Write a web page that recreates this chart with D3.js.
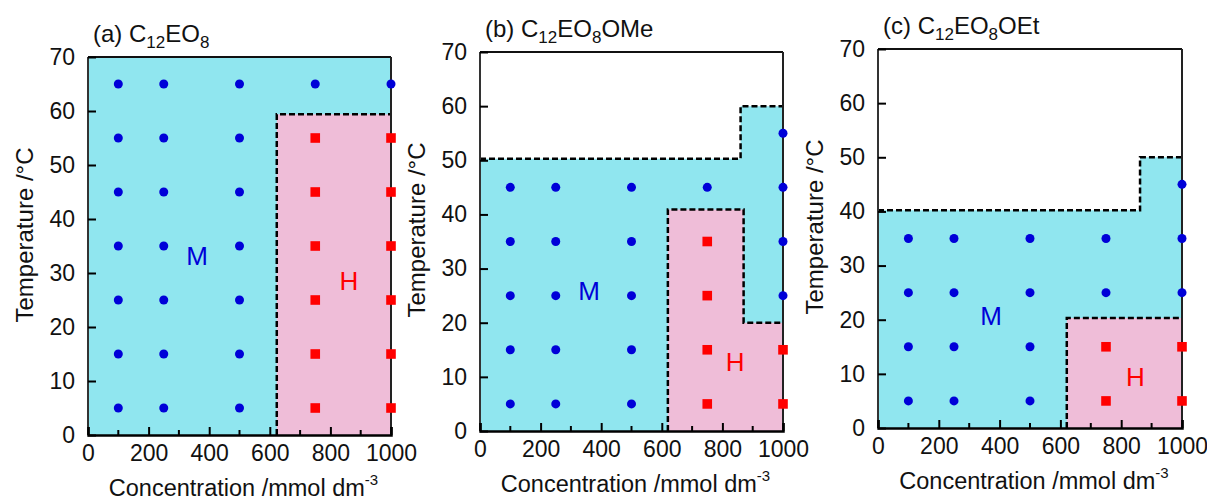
<!DOCTYPE html>
<html>
<head>
<meta charset="utf-8">
<script src="https://cdn.jsdelivr.net/npm/d3@7"></script>
<style>
  body { margin: 0; background: #fff; }
  svg { font-family: "Liberation Sans", Arial, sans-serif; }
</style>
</head>
<body>
<div id="chart"></div>
<script>
// phase boundaries [concentration, temperature]
const micelleA = [[0,0],[0,70],[1000,70],[1000,0]];
const hexA = [[623,0],[623,59.4],[1000,59.4],[1000,0]];
const dashA = [[623,0],[623,59.4],[1000,59.4]];

const micelleB = [[0,0],[0,50.3],[860,50.3],[860,60],[1000,60],[1000,0]];
const hexB = [[620,0],[620,40.9],[870,40.9],[870,20],[1000,20],[1000,0]];
const dashB1 = [[0,50.3],[860,50.3],[860,60],[1000,60]];
const dashB2 = [[620,0],[620,40.9],[870,40.9],[870,20],[1000,20]];

const micelleC = [[0,0],[0,40.2],[862,40.2],[862,50],[1000,50],[1000,0]];
const hexC = [[621,0],[621,20.3],[1000,20.3],[1000,0]];
const dashC1 = [[0,40.2],[862,40.2],[862,50],[1000,50]];
const dashC2 = [[621,0],[621,20.3],[1000,20.3]];

// measured points
const mPointsA = [[100,5],[100,15],[100,25],[100,35],[100,45],[100,55],[100,65],
  [250,5],[250,15],[250,25],[250,35],[250,45],[250,55],[250,65],
  [500,5],[500,15],[500,25],[500,35],[500,45],[500,55],[500,65],
  [750,65],[1000,65]];
const hPointsA = [[750,5],[750,15],[750,25],[750,35],[750,45],[750,55],
  [1000,5],[1000,15],[1000,25],[1000,35],[1000,45],[1000,55]];

const mPointsB = [[100,5],[100,15],[100,25],[100,35],[100,45],
  [250,5],[250,15],[250,25],[250,35],[250,45],
  [500,5],[500,15],[500,25],[500,35],[500,45],
  [750,45],[1000,25],[1000,35],[1000,45],[1000,55]];
const hPointsB = [[750,5],[750,15],[750,25],[750,35],[1000,5],[1000,15]];

const mPointsC = [[100,5],[100,15],[100,25],[100,35],
  [250,5],[250,15],[250,25],[250,35],
  [500,5],[500,15],[500,25],[500,35],
  [750,25],[750,35],[1000,25],[1000,35],[1000,45]];
const hPointsC = [[750,5],[750,15],[1000,5],[1000,15]];

const xTicks = [0,200,400,600,800,1000];
const xMinor = [100,300,500,700,900];
const yTicks = [0,10,20,30,40,50,60,70];

const panels = [
  {tag:"(a) ", tail:"", x0:88, x1:391, yTop:57, yBot:435, ylabY:235,
   micelle:micelleA, hex:hexA, dashes:[dashA], m:mPointsA, h:hPointsA, mLab:[360,33.3], hLab:[861,28.5]},
  {tag:"(b) ", tail:"OMe", x0:480, x1:783, yTop:52, yBot:431, ylabY:230,
   micelle:micelleB, hex:hexB, dashes:[dashB1,dashB2], m:mPointsB, h:hPointsB, mLab:[360,26], hLab:[842,12.8]},
  {tag:"(c) ", tail:"OEt", x0:878, x1:1182, yTop:49, yBot:428, ylabY:227,
   micelle:micelleC, hex:hexC, dashes:[dashC1,dashC2], m:mPointsC, h:hPointsC, mLab:[372,20.7], hLab:[847,9.5]}
];

const svg = d3.select("#chart").append("svg").attr("width",1207).attr("height",501);

panels.forEach(p => {
  const x = d3.scaleLinear().domain([0,1000]).range([p.x0,p.x1]);
  const y = d3.scaleLinear().domain([0,70]).range([p.yBot,p.yTop]);
  const g = svg.append("g");
  const line = d3.line().x(d=>x(d[0])).y(d=>y(d[1]));

  g.append("path").attr("d", line(p.micelle)+"Z").attr("fill","#90e6ef");
  g.append("path").attr("d", line(p.hex)+"Z").attr("fill","#efbdd8");

  p.dashes.forEach(d => {
    g.append("path").attr("d", line(d)).attr("fill","none")
      .attr("stroke","#000").attr("stroke-width",2.5).attr("stroke-dasharray","6,3");
  });

  // frame
  g.append("line").attr("x1",p.x0).attr("x2",p.x1).attr("y1",p.yTop).attr("y2",p.yTop)
    .attr("stroke","#111").attr("stroke-width",2);
  g.append("line").attr("x1",p.x1).attr("x2",p.x1).attr("y1",p.yTop).attr("y2",p.yBot)
    .attr("stroke","#222").attr("stroke-width",2);
  g.append("line").attr("x1",p.x0).attr("x2",p.x0).attr("y1",p.yTop).attr("y2",p.yBot)
    .attr("stroke","#333").attr("stroke-width",2);

  // axes
  const xAx = g.append("g").attr("transform",`translate(0,${p.yBot})`)
    .call(d3.axisBottom(x).tickValues(xTicks).tickSize(-8).tickPadding(10).tickFormat(d3.format("d")));
  xAx.select(".domain").attr("stroke","#000").attr("stroke-width",2.5);
  xAx.selectAll(".tick line").attr("stroke","#000").attr("stroke-width",2);
  xAx.selectAll(".tick text").attr("font-size",23).attr("fill","#111")
    .attr("font-family","Liberation Sans, Arial, sans-serif");
  xAx.selectAll(".minor").data(xMinor).enter().append("line").attr("class","minor")
    .attr("x1",d=>x(d)).attr("x2",d=>x(d)).attr("y1",0).attr("y2",-5)
    .attr("stroke","#000").attr("stroke-width",2);

  const yAx = g.append("g").attr("transform",`translate(${p.x0},0)`)
    .call(d3.axisLeft(y).tickValues(yTicks).tickSize(-8).tickPadding(13));
  yAx.select(".domain").remove();
  yAx.selectAll(".tick line").attr("stroke","#000").attr("stroke-width",2);
  yAx.selectAll(".tick text").attr("font-size",23).attr("fill","#111")
    .attr("font-family","Liberation Sans, Arial, sans-serif");

  // markers
  g.selectAll(".m").data(p.m).enter().append("circle")
    .attr("cx",d=>x(d[0])).attr("cy",d=>y(d[1])).attr("r",4.5).attr("fill","#0000d8");
  g.selectAll(".h").data(p.h).enter().append("rect")
    .attr("x",d=>x(d[0])-4.8).attr("y",d=>y(d[1])-4.8).attr("width",9.6).attr("height",9.6)
    .attr("fill","#ff0000");

  // phase labels
  g.append("text").attr("x",x(p.mLab[0])).attr("y",y(p.mLab[1])).attr("dy","0.36em")
    .attr("text-anchor","middle").attr("font-size",26).attr("fill","#0000d8").text("M");
  g.append("text").attr("x",x(p.hLab[0])).attr("y",y(p.hLab[1])).attr("dy","0.36em")
    .attr("text-anchor","middle").attr("font-size",26).attr("fill","#ff0000").text("H");

  // title
  const t = g.append("text").attr("x",p.x0+5).attr("y",p.yTop-15).attr("font-size",24).attr("fill","#111");
  t.append("tspan").text(p.tag+"C");
  t.append("tspan").attr("font-size",17).attr("dy",6).text("12");
  t.append("tspan").attr("dy",-6).text("EO");
  t.append("tspan").attr("font-size",17).attr("dy",6).text("8");
  t.append("tspan").attr("dy",-6).text(p.tail);

  // x label
  const xl = g.append("text").attr("x",(p.x0+p.x1)/2 + 4).attr("y",p.yBot+61)
    .attr("text-anchor","middle").attr("font-size",23.5).attr("fill","#111");
  xl.append("tspan").text("Concentration /mmol dm");
  xl.append("tspan").attr("font-size",15).attr("dy",-11).text("-3");

  // y label
  g.append("text").attr("transform",`translate(${p.x0-55},${p.ylabY}) rotate(-90)`)
    .attr("text-anchor","middle").attr("font-size",24).attr("fill","#111")
    .text("Temperature /\u00B0C");
});
</script>
</body>
</html>
